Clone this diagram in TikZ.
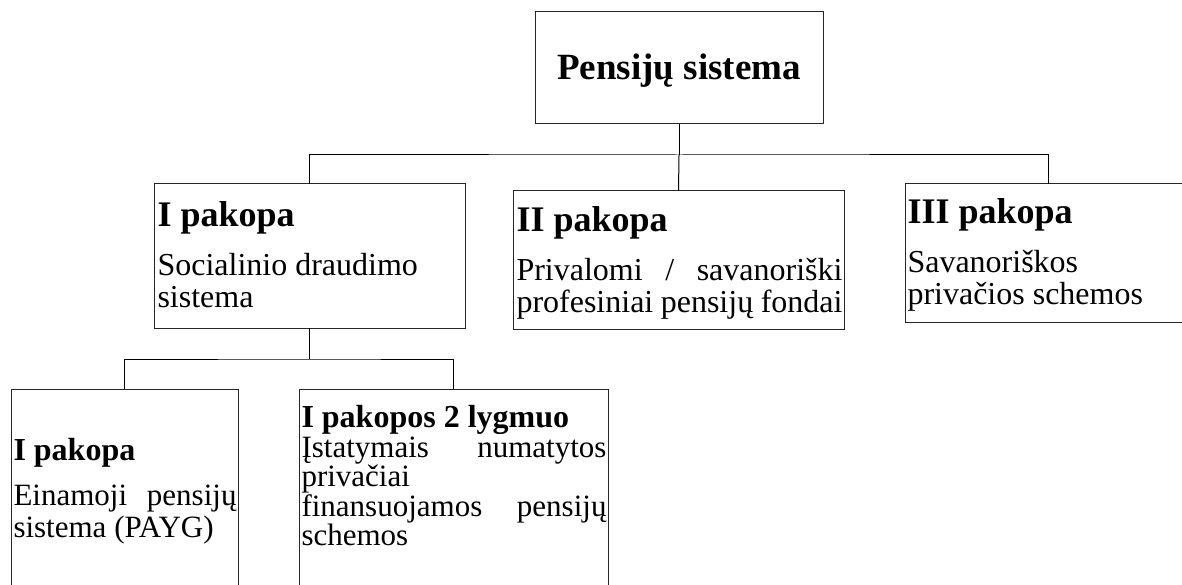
\documentclass[tikz,border=0pt]{standalone}
\usepackage{fontspec}
\setmainfont{Liberation Serif}
\hyphenpenalty=10000
\exhyphenpenalty=10000
\lineskiplimit=-100pt
\setlength{\parindent}{0pt}
\newcommand{\titlefont}{\fontsize{37}{40}\selectfont\bfseries}
\newcommand{\tierhead}{\fontsize{36}{40}\selectfont\bfseries}
\newcommand{\tiertext}{\fontsize{32}{33}\selectfont\mdseries}
\newcommand{\subhead}{\fontsize{32}{34}\selectfont\bfseries}
\newcommand{\subtext}{\fontsize{31}{32}\selectfont\mdseries}

\begin{document}
\begin{tikzpicture}[x=1pt, y=-1pt, line width=1pt,
	box/.style = {draw=black!85, inner sep=0pt, outer sep=0pt},
	txt/.style = {anchor=base west, inner sep=0pt}]
	\useasboundingbox (0,0) rectangle (1182,585);
	\clip (0,0) rectangle (1182,585);
	\node[box, minimum width=288pt, minimum height=112pt, text height=30pt, text depth=6pt] (root) at (679,68) {\titlefont Pensijų sistema};
	\node[box, minimum width=311pt, minimum height=144pt] (p1) at (309.5,256) {};
	\node[box, minimum width=331pt, minimum height=138pt] (p2) at (678.5,260) {};
	\node[box, minimum width=286pt, minimum height=138pt] (p3) at (1048,253) {};
	\node[box, minimum width=227pt, minimum height=260pt] (b1) at (124.5,519) {};
	\node[box, minimum width=309pt, minimum height=260pt] (b2) at (453.5,519) {};
	\node[txt] (p1t) at ([shift={(3,43)}]p1.north west)
		{\parbox[t]{305pt}{\tierhead I pakopa\par\vspace{15pt}\tiertext Socialinio draudimo\\ sistema}};
	\node[txt] (p2t) at ([shift={(3,41)}]p2.north west)
		{\parbox[t]{326pt}{\tierhead II pakopa\par\vspace{15pt}\tiertext Privalomi\hfill /\hfill savanoriški\\ profesiniai pensijų fondai}};
	\node[txt] (p3t) at ([shift={(2,40)}]p3.north west)
		{\parbox[t]{270pt}{\tierhead III pakopa\par\vspace{15pt}\tiertext Savanoriškos\\ privačios schemos}};
	\node[txt] (b1t) at ([shift={(2,71)}]b1.north west)
		{\parbox[t]{223pt}{\subhead I pakopa\par\vspace{13pt}\subtext Einamoji\hfill pensijų\\ sistema (PAYG)}};
	\node[txt] (b2t) at ([shift={(2,38)}]b2.north west)
		{\parbox[t]{305pt}{\subhead I pakopos 2 lygmuo\par\vspace{2pt}\subtext\baselineskip=27pt Įstatymais\hfill numatytos\\ privačiai\\ finansuojamos\hfill pensijų\\ schemos}};
	\coordinate (busA) at (679,155);
	\coordinate (busB) at (309.5,359);
	\draw (root.south) -- (busA);
	\draw (busA) -- (p2.north);
	\draw (p1.north) |- (busA) -| (p3.north);
	\draw (p1.south) -- (busB);
	\draw (b1.north) |- (busB) -| (b2.north);
\end{tikzpicture}
\end{document}
